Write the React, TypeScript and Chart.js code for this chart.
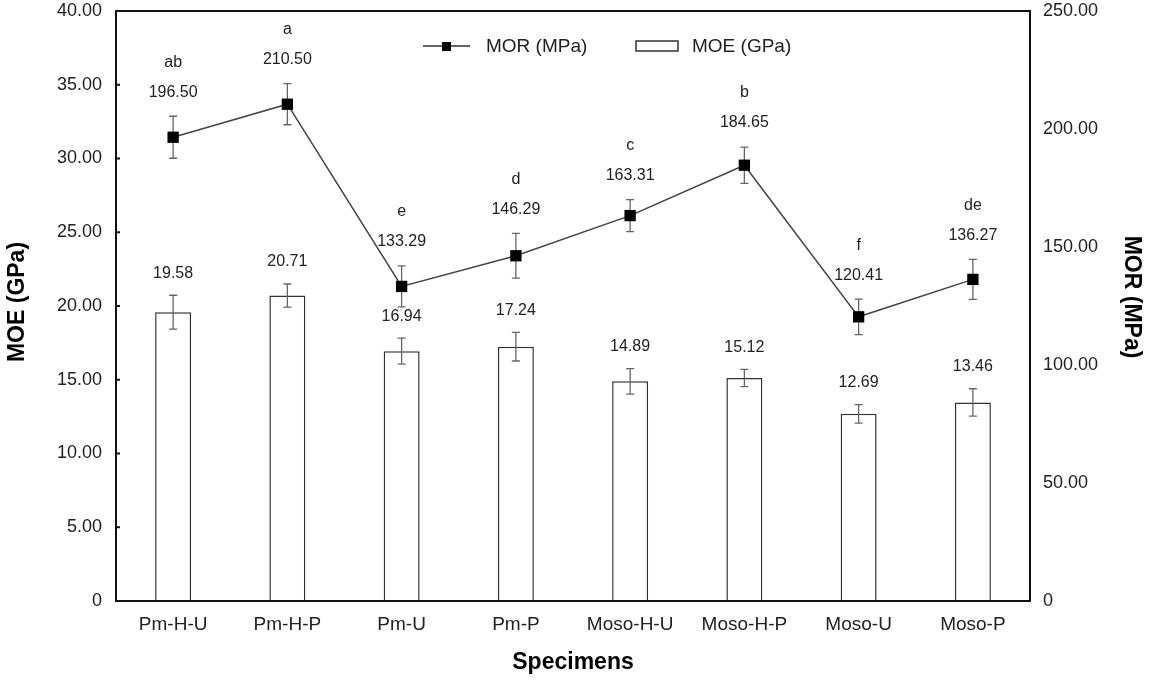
import React, { useEffect, useRef } from "react";
import { Chart, registerables } from "chart.js";

Chart.register(...registerables);

const categories = ["Pm-H-U", "Pm-H-P", "Pm-U", "Pm-P", "Moso-H-U", "Moso-H-P", "Moso-U", "Moso-P"];
const moeValues = [19.58, 20.71, 16.94, 17.24, 14.89, 15.12, 12.69, 13.46];
const moeErrors = [1.15, 0.78, 0.88, 0.97, 0.87, 0.59, 0.63, 0.93];
const morValues = [196.5, 210.5, 133.29, 146.29, 163.31, 184.65, 120.41, 136.27];
const morErrors = [8.9, 8.7, 8.7, 9.5, 6.8, 7.7, 7.5, 8.5];
const morLetters = ["ab", "a", "e", "d", "c", "b", "f", "de"];
const moeTicks = [0, 5, 10, 15, 20, 25, 30, 35, 40];
const morTicks = [0, 50, 100, 150, 200, 250];

const FONT = "'Liberation Sans', Arial, sans-serif";
const TEXT = "#222";

const fmt = (v: number) => (v === 0 ? "0" : v.toFixed(2));

const overlay = {
  id: "overlay",
  beforeDatasetDraw(chart: any, args: any) {
    if (args.index !== 0) return;
    const ctx = chart.ctx;
    const meta = chart.getDatasetMeta(0);
    const y1 = chart.scales.y1;
    ctx.save();
    ctx.strokeStyle = "#666";
    ctx.lineWidth = 1.3;
    meta.data.forEach((pt: any, i: number) => {
      const top = y1.getPixelForValue(morValues[i] + morErrors[i]);
      const bot = y1.getPixelForValue(morValues[i] - morErrors[i]);
      ctx.beginPath();
      ctx.moveTo(pt.x, top);
      ctx.lineTo(pt.x, bot);
      ctx.moveTo(pt.x - 4, top);
      ctx.lineTo(pt.x + 4, top);
      ctx.moveTo(pt.x - 4, bot);
      ctx.lineTo(pt.x + 4, bot);
      ctx.stroke();
    });
    ctx.restore();
  },
  afterDatasetDraw(chart: any, args: any) {
    if (args.index !== 1) return;
    const ctx = chart.ctx;
    const meta = chart.getDatasetMeta(1);
    const y = chart.scales.y;
    ctx.save();
    ctx.strokeStyle = "#666";
    ctx.lineWidth = 1.3;
    meta.data.forEach((bar: any, i: number) => {
      const top = y.getPixelForValue(moeValues[i] + moeErrors[i]);
      const bot = y.getPixelForValue(moeValues[i] - moeErrors[i]);
      ctx.beginPath();
      ctx.moveTo(bar.x, top);
      ctx.lineTo(bar.x, bot);
      ctx.moveTo(bar.x - 4, top);
      ctx.lineTo(bar.x + 4, top);
      ctx.moveTo(bar.x - 4, bot);
      ctx.lineTo(bar.x + 4, bot);
      ctx.stroke();
    });
    ctx.restore();
  },
  afterDraw(chart: any) {
    const ctx = chart.ctx;
    const { left, right, top, bottom } = chart.chartArea;
    const y = chart.scales.y;
    const y1 = chart.scales.y1;
    ctx.save();
    ctx.strokeStyle = "#111";
    ctx.lineWidth = 2;
    ctx.strokeRect(left, top, right - left, bottom - top);
    moeTicks.forEach((t) => {
      const py = y.getPixelForValue(t);
      ctx.beginPath();
      ctx.moveTo(left, py);
      ctx.lineTo(left + 4, py);
      ctx.stroke();
    });
    ctx.fillStyle = TEXT;
    ctx.textAlign = "center";
    ctx.textBaseline = "middle";
    ctx.font = `16px ${FONT}`;
    const xs = chart.getDatasetMeta(1).data.map((b: any) => b.x);
    xs.forEach((x: number, i: number) => {
      const mt = y1.getPixelForValue(morValues[i] + morErrors[i]);
      ctx.fillText(morValues[i].toFixed(2), x, mt - 24);
      ctx.fillText(morLetters[i], x, mt - 54);
      const et = y.getPixelForValue(moeValues[i] + moeErrors[i]);
      ctx.fillText(moeValues[i].toFixed(2), x, et - 22);
    });
    ctx.font = `19px ${FONT}`;
    ctx.textAlign = "left";
    ctx.strokeStyle = "#333";
    ctx.lineWidth = 1.5;
    ctx.beginPath();
    ctx.moveTo(423, 46);
    ctx.lineTo(470, 46);
    ctx.stroke();
    ctx.fillStyle = "#000";
    ctx.fillRect(442, 42, 9, 9);
    ctx.fillStyle = TEXT;
    ctx.fillText("MOR (MPa)", 486, 47);
    ctx.strokeRect(636, 41, 42, 10);
    ctx.fillText("MOE (GPa)", 692, 47);
    ctx.fillStyle = "#000";
    ctx.font = `bold 23px ${FONT}`;
    ctx.textAlign = "center";
    ctx.fillText("Specimens", 573, 663);
    ctx.save();
    ctx.translate(18, 302);
    ctx.rotate(-Math.PI / 2);
    ctx.fillText("MOE (GPa)", 0, 0);
    ctx.restore();
    ctx.save();
    ctx.translate(1131, 297);
    ctx.rotate(Math.PI / 2);
    ctx.fillText("MOR (MPa)", 0, 0);
    ctx.restore();
    ctx.restore();
  },
};

export default function App() {
  const ref = useRef<HTMLCanvasElement>(null);
  useEffect(() => {
    if (!ref.current) return;
    const chart = new Chart(ref.current, {
      type: "bar",
      data: {
        labels: categories,
        datasets: [
          {
            type: "line",
            label: "MOR (MPa)",
            data: morValues,
            yAxisID: "y1",
            borderColor: "#444",
            borderWidth: 1.5,
            pointStyle: "rect",
            pointRadius: 8,
            pointBackgroundColor: "#000",
            pointBorderColor: "#000",
            pointBorderWidth: 0,
            tension: 0,
            order: 0,
          } as any,
          {
            type: "bar",
            label: "MOE (GPa)",
            data: moeValues,
            yAxisID: "y",
            backgroundColor: "#fff",
            borderColor: "#333",
            borderWidth: 1.5,
            barPercentage: 0.315,
            categoryPercentage: 1,
            order: 1,
          } as any,
        ],
      },
      options: {
        responsive: false,
        animation: false,
        layout: { padding: { top: 11, left: 0, right: 0, bottom: 0 } },
        plugins: { legend: { display: false }, title: { display: false }, tooltip: { enabled: false } },
        scales: {
          x: {
            offset: true,
            grid: { display: false, drawTicks: false },
            border: { display: false },
            ticks: { color: TEXT, font: { family: FONT, size: 19 }, padding: 12, maxRotation: 0 },
            afterFit: (s: any) => {
              s.height = 81;
              s.paddingLeft = 0;
              s.paddingRight = 0;
            },
          },
          y: {
            position: "left",
            min: 0,
            max: 40,
            grid: { display: false, drawTicks: false },
            border: { display: false },
            afterBuildTicks: (s: any) => {
              s.ticks = moeTicks.map((v) => ({ value: v }));
            },
            ticks: { color: TEXT, font: { family: FONT, size: 18 }, padding: 14, callback: (v: any) => fmt(Number(v)) },
            afterFit: (s: any) => {
              s.width = 116;
              s.paddingTop = 0;
              s.paddingBottom = 0;
            },
          },
          y1: {
            position: "right",
            min: 0,
            max: 250,
            grid: { display: false, drawTicks: false },
            border: { display: false },
            afterBuildTicks: (s: any) => {
              s.ticks = morTicks.map((v) => ({ value: v }));
            },
            ticks: { color: TEXT, font: { family: FONT, size: 18 }, padding: 13, callback: (v: any) => fmt(Number(v)) },
            afterFit: (s: any) => {
              s.width = 119;
              s.paddingTop = 0;
              s.paddingBottom = 0;
            },
          },
        },
      },
      plugins: [overlay],
    });
    return () => chart.destroy();
  }, []);
  return (
    <div style={{ position: "absolute", left: 0, top: 0, width: 1149, height: 682, background: "#fff" }}>
      <canvas ref={ref} width={1149} height={682} />
    </div>
  );
}
